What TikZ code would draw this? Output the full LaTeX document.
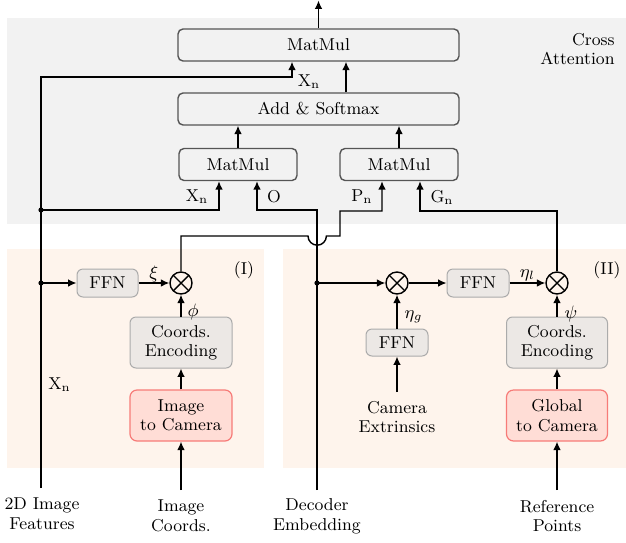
\documentclass[tikz,border=0pt]{standalone}
\usetikzlibrary{arrows.meta,calc}
\definecolor{bggray}{HTML}{F2F2F2}
\definecolor{panel}{HTML}{FEF4EC}
\definecolor{boxline}{HTML}{555555}
\definecolor{ffnfill}{HTML}{ECE8E5}
\definecolor{ffnline}{HTML}{ABABAB}
\definecolor{redfill}{HTML}{FFDDD6}
\definecolor{redline}{HTML}{F77B78}
\begin{document}
\begin{tikzpicture}[x=0.5pt,y=-0.5pt,
  font=\fontsize{8.6}{9.8}\selectfont,
  mainbox/.style={draw=boxline, fill=bggray, rounded corners=2.5pt, line width=0.7pt, inner sep=0pt, minimum height=16pt},
  softbox/.style={draw=ffnline, fill=ffnfill, rounded corners=3pt, line width=0.5pt, inner sep=0pt, align=center},
  redbox/.style={draw=redline, fill=redfill, rounded corners=3.5pt, line width=0.6pt, inner sep=0pt, align=center, minimum width=51pt, minimum height=25.5pt},
  otimes/.style={circle, draw, line width=0.7pt, minimum size=11pt, inner sep=0pt,
    path picture={\draw[line width=0.7pt] (path picture bounding box.north west) -- (path picture bounding box.south east)
      (path picture bounding box.north east) -- (path picture bounding box.south west);}},
  arr/.style={-{Latex[length=4.2pt,width=3.8pt]}, line width=0.7pt},
  lbl/.style={inner sep=1.5pt},
  txt/.style={align=center, inner sep=0pt}]
\useasboundingbox (0,0) rectangle (626,542);
% backgrounds
\fill[bggray] (7,18) rectangle (626,224);
\fill[panel] (7,249) rectangle (264,468);
\fill[panel] (283,249) rectangle (626,468);

% cross attention boxes
\node[mainbox, minimum width=140.5pt] (mm3) at (318.5,45) {MatMul};
\node[mainbox, minimum width=140.5pt] (sm) at (318.5,109) {Add \& Softmax};
\node[mainbox, minimum width=59pt] (mm1) at (238,164.5) {MatMul};
\node[mainbox, minimum width=59pt] (mm2) at (399,164.5) {MatMul};
\node[txt, anchor=east] (ca) at (615,51) {\begin{tabular}{@{}r@{}}Cross\\[-0.5pt]Attention\end{tabular}};

% panel I
\node[softbox, minimum width=30.5pt, minimum height=14pt] (ffn1) at (107.5,283) {FFN};
\node[otimes] (ox1) at (181,283) {};
\node[softbox, minimum width=51pt, minimum height=25.5pt] (ce1) at (181,342.5) {Coords.\\Encoding};
\node[redbox] (ic1) at (181,415.5) {Image\\to Camera};
\node[txt] (l1) at (244,270) {(I)};

% panel II
\node[otimes] (ox2) at (397,283) {};
\node[softbox, minimum width=31pt, minimum height=14pt] (ffn2) at (478,283) {FFN};
\node[otimes] (ox3) at (557,283) {};
\node[softbox, minimum width=31pt, minimum height=13.5pt] (ffn3) at (397,342.5) {FFN};
\node[softbox, minimum width=50.5pt, minimum height=25.5pt] (ce2) at (557,342.5) {Coords.\\Encoding};
\node[redbox, minimum width=50.5pt] (gc2) at (557,415.5) {Global\\to Camera};
\node[txt] (l2) at (607,270) {(II)};
\node[txt] (cext) at (397,417) {Camera\\Extrinsics};

% inputs
\node[txt] (t1) at (42,514) {2D Image\\Features};
\node[txt] (t2) at (181,516) {Image\\Coords.};
\node[txt] (t3) at (317,516) {Decoder\\Embedding};
\node[txt] (t4) at (557,516) {Reference\\Points};

% coordinates
\coordinate (out) at (318.5,0.5);
\coordinate (xS) at (346,0);
\coordinate (xin) at (41,488);
\coordinate (xtop) at (41,77);
\coordinate (xa) at (292,77);
\coordinate (d1) at (41,210);
\coordinate (d2) at (41,283);
\coordinate (xb) at (219,210);
\coordinate (din) at (317,490);
\coordinate (dtop) at (317,210);
\coordinate (ob) at (257,210);
\coordinate (d3) at (317,283);
\coordinate (p1) at (181,236);
\coordinate (pj) at (308,236);
\coordinate (p2) at (340,236);
\coordinate (p3) at (340,211);
\coordinate (p4) at (382,211);
\coordinate (g1) at (557,211);
\coordinate (g2) at (420,211);
\coordinate (icin) at (181,490);
\coordinate (cein) at (397,392);
\coordinate (rpin) at (557,490);

% connectors in cross attention
\draw[arr] (mm3.north) -- (out);
\draw[arr] (sm.north -| xS) -- (mm3.south -| xS);
\draw[arr] (mm1.north) -- (mm1.north |- sm.south);
\draw[arr] (mm2.north) -- (mm2.north |- sm.south);
\draw[arr] (xin) -- (xtop) -- (xa) -- (mm3.south -| xa);
\draw[arr] (d1) -- (xb) -- (mm1.south -| xb);
\draw[arr] (din) -- (dtop) -- (ob) -- (mm1.south -| ob);
\draw[arr] (ox1.north) -- (p1) -- (pj) arc[start angle=180, end angle=360, radius=4.6pt] -- (p2) -- (p3) -- (p4) -- (mm2.south -| p4);
\draw[arr] (ox3.north) -- (g1) -- (g2) -- (mm2.south -| g2);
\fill (d1) circle[radius=1.3pt];
\fill (d2) circle[radius=1.3pt];
\fill (d3) circle[radius=1.3pt];
\node[lbl] (lx1) at (309,82) {X$_\mathrm{n}$};
\node[lbl] (lx2) at (197,197) {X$_\mathrm{n}$};
\node[lbl] (lo) at (274,197) {O};
\node[lbl] (lp) at (362,197) {P$_\mathrm{n}$};
\node[lbl] (lg) at (442,197) {G$_\mathrm{n}$};
\node[lbl, right] (lx3) at (45,385) {X$_\mathrm{n}$};

% panel I connectors
\draw[arr] (d2) -- (ffn1);
\draw[arr] (ffn1) -- (ox1) node[lbl, midway, above, yshift=-1.2pt] (lxi) {$\xi$};
\draw[arr] (ce1) -- (ox1) node[lbl, midway, right, xshift=1.5pt, yshift=-3pt] (lphi) {$\phi$};
\draw[arr] (ic1) -- (ce1);
\draw[arr] (icin) -- (ic1);

% panel II connectors
\draw[arr] (d3) -- (ox2);
\draw[arr] (ox2) -- (ffn2);
\draw[arr] (ffn2) -- (ox3) node[lbl, midway, above, yshift=-0.8pt] (leta) {$\eta_l$};
\draw[arr] (ffn3) -- (ox2) node[lbl, midway, right, xshift=2pt, yshift=-2.5pt] (letg) {$\eta_g$};
\draw[arr] (cein) -- (ffn3);
\draw[arr] (ce2) -- (ox3) node[lbl, midway, right, xshift=2pt, yshift=-4pt] (lpsi) {$\psi$};
\draw[arr] (gc2) -- (ce2);
\draw[arr] (rpin) -- (gc2);
\end{tikzpicture}
\end{document}
